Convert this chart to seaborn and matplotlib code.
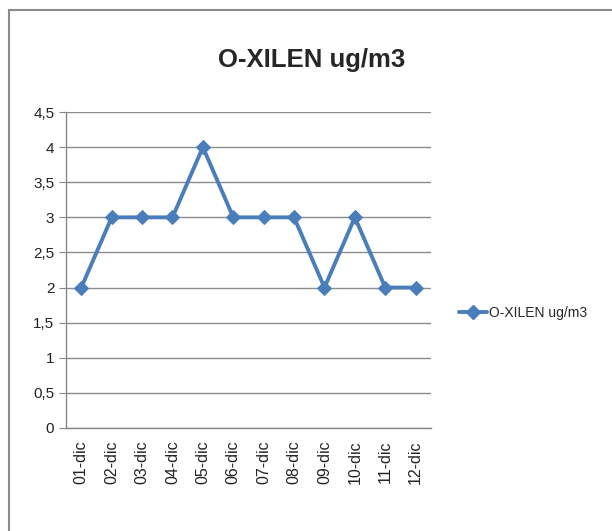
import matplotlib
matplotlib.use("Agg")
import matplotlib.pyplot as plt
import seaborn as sns
import pandas as pd
import numpy as np
from matplotlib.lines import Line2D
from matplotlib.ticker import FuncFormatter, FixedLocator

# data
dates = ["01-dic", "02-dic", "03-dic", "04-dic", "05-dic", "06-dic",
         "07-dic", "08-dic", "09-dic", "10-dic", "11-dic", "12-dic"]
values = [2, 3, 3, 3, 4, 3, 3, 3, 2, 3, 2, 2]
series_name = "O-XILEN ug/m3"

df = pd.DataFrame({"pos": np.arange(len(dates)), "value": values})

sns.set_style("white")
plt.rcParams["font.family"] = ["Liberation Sans", "DejaVu Sans"]

fig = plt.figure(figsize=(6.12, 5.31), dpi=100)
ax = fig.add_axes([0.108, 0.194, 0.596, 0.595])

col = "#4A7EBB"
sns.lineplot(data=df, x="pos", y="value", ax=ax, color=col, linewidth=2.8,
             marker="D", markersize=7, markeredgecolor=col, markerfacecolor=col)

ax.set_xlim(-0.5, len(dates) - 0.5)
ax.set_ylim(0, 4.5)
ax.set_yticks(np.arange(0, 4.51, 0.5))
ax.yaxis.set_major_formatter(FuncFormatter(
    lambda v, p: ("%g" % v).replace(".", ",")))
ax.set_xticks(df["pos"])
ax.set_xticklabels(dates, rotation=90, fontsize=11.5, color="#222222")
ax.xaxis.set_minor_locator(FixedLocator(np.arange(-0.5, len(dates), 1.0)))
ax.tick_params(axis="x", which="major", length=0, pad=9)
ax.tick_params(axis="x", which="minor", length=5, color="#888888", width=1)
ax.tick_params(axis="y", length=5, color="#888888", labelsize=11,
               labelcolor="#222222", left=True)
ax.set_xlabel("")
ax.set_ylabel("")

ax.grid(axis="y", color="#8c8c8c", linewidth=1)
ax.set_axisbelow(True)
for s in ["top", "right"]:
    ax.spines[s].set_visible(False)
for s in ["left", "bottom"]:
    ax.spines[s].set_color("#888888")
    ax.spines[s].set_linewidth(1)

fig.text(0.51, 0.887, series_name, ha="center", va="center",
         fontsize=18.5, fontweight="bold")

handle = Line2D([], [], color=col, linewidth=2.8, marker="D", markersize=7)
fig.legend([handle], [series_name], loc="center left",
           bbox_to_anchor=(0.73, 0.41), frameon=False, fontsize=10,
           handlelength=2.0, handletextpad=0.15)

# outer chart border (partially cropped in the reference)
fig.add_artist(Line2D([0.015, 0.015], [0, 0.981], color="#8a8a8a",
                      linewidth=1.5, transform=fig.transFigure))
fig.add_artist(Line2D([0.015, 1.0], [0.981, 0.981], color="#8a8a8a",
                      linewidth=1.5, transform=fig.transFigure))

fig.savefig("out.png", dpi=100)
